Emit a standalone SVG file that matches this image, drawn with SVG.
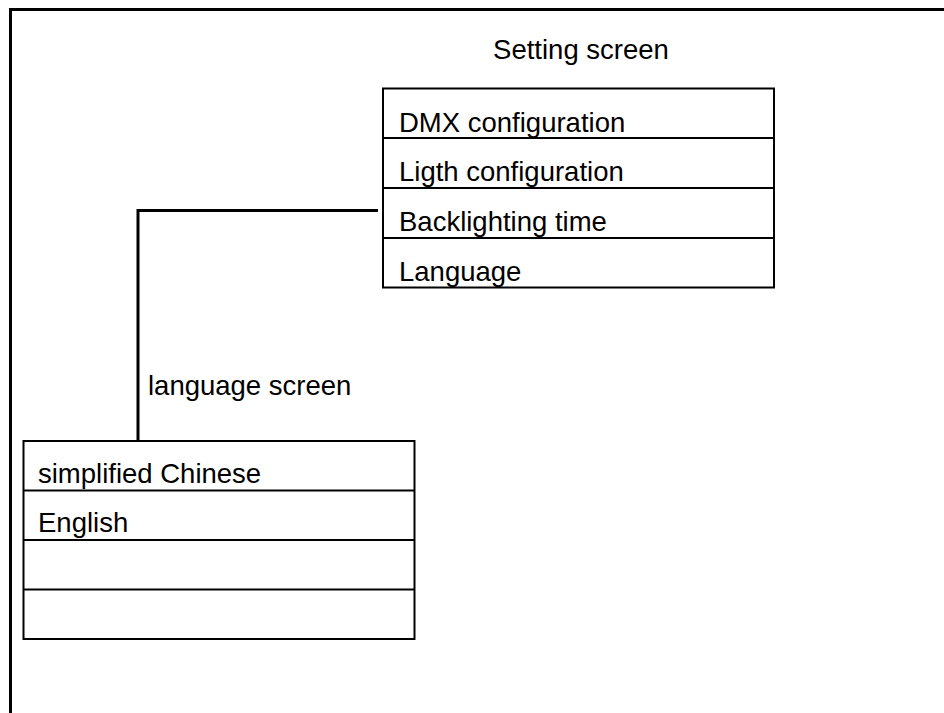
<svg xmlns="http://www.w3.org/2000/svg" width="944" height="713" viewBox="0 0 944 713">
  <style>
    .frame { fill: none; stroke: #000; stroke-width: 3; }
    .box { fill: #fff; stroke: #000; stroke-width: 2; }
    .row { stroke: #000; stroke-width: 2; }
    .wire { fill: none; stroke: #000; stroke-width: 3; }
    text { font-family: "Liberation Sans", Arial, sans-serif; font-size: 27.5px; fill: #000; }
  </style>
  <rect width="944" height="713" fill="#fff"/>

  <!-- outer frame: top and left edges -->
  <path class="frame" d="M10.5,713 V9.5 H944"/>

  <text x="581" y="59" text-anchor="middle">Setting screen</text>
  <text x="148" y="395">language screen</text>

  <g id="connectors">
    <path class="wire" d="M378,210.5 H138 V440"/>
  </g>

  <g id="setting-menu">
    <rect class="box" x="383" y="88.5" width="391" height="199"/>
    <line class="row" x1="383" y1="138" x2="774" y2="138"/>
    <line class="row" x1="383" y1="188" x2="774" y2="188"/>
    <line class="row" x1="383" y1="238" x2="774" y2="238"/>
    <text x="399" y="131.5">DMX configuration</text>
    <text x="399" y="181">Ligth configuration</text>
    <text x="399" y="230.5">Backlighting time</text>
    <text x="399" y="280.5">Language</text>
  </g>

  <g id="language-menu">
    <rect class="box" x="23.5" y="441" width="391" height="198"/>
    <line class="row" x1="23.5" y1="490.5" x2="414.5" y2="490.5"/>
    <line class="row" x1="23.5" y1="540" x2="414.5" y2="540"/>
    <line class="row" x1="23.5" y1="589.5" x2="414.5" y2="589.5"/>
    <text x="38" y="483">simplified Chinese</text>
    <text x="38" y="532">English</text>
  </g>
</svg>
